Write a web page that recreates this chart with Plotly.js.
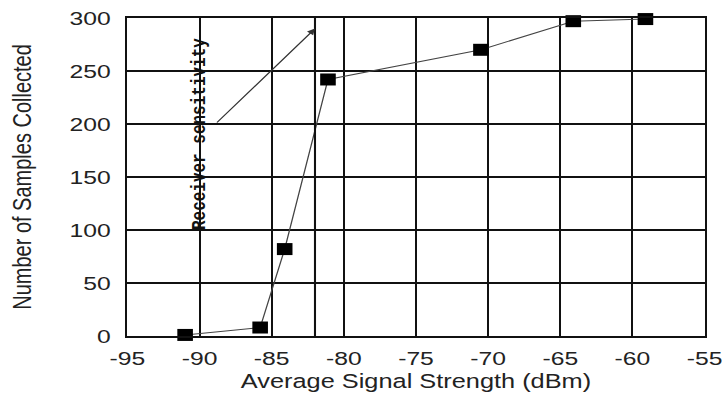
<!DOCTYPE html>
<html>
<head>
<meta charset="utf-8">
<script src="https://cdn.plot.ly/plotly-3.0.1.min.js"></script>
<style>
  html, body { margin: 0; padding: 0; background: #fff; overflow: hidden; }
  /* the reference picture is stretched horizontally by about 1.3x */
  #chart { width: 557px; height: 396px; transform: scaleX(1.3); transform-origin: 0 0; }
</style>
</head>
<body>
<div id="chart"></div>
<script>
// Data
const signalStrength = [-91, -85.8, -84.1, -81.1, -70.5, -64.1, -59.1];
const samplesCollected = [1, 8, 82, 242, 270, 297, 299];

const xTickVals = [-95, -90, -85, -80, -75, -70, -65, -60, -55];
const yTickVals = [0, 50, 100, 150, 200, 250, 300];

const receiverSensitivity = -82;
const annotationLabel = "Receiver sensitivity";
const labelPos = [-90, 190];
const arrowTail = [-88.9, 200];
const arrowHead = [-82, 290];

const txtColor = "#222";
const gridColor = "#111";

const trace = {
  x: signalStrength,
  y: samplesCollected,
  type: "scatter",
  mode: "lines+markers",
  line: { color: "#444", width: 1 },
  marker: { symbol: "square", size: 12, color: "#000" },
  showlegend: false,
  cliponaxis: false
};

const layout = {
  width: 557,
  height: 396,
  margin: { l: 98, r: 15, t: 18, b: 60 },
  paper_bgcolor: "#fff",
  plot_bgcolor: "#fff",
  font: { family: "Liberation Sans, Arial, sans-serif", size: 19, color: txtColor },
  xaxis: {
    range: [-95, -55],
    tickvals: xTickVals,
    ticktext: xTickVals.map(String),
    showgrid: true,
    gridcolor: gridColor,
    gridwidth: 1.6,
    zeroline: false,
    showline: true,
    linecolor: gridColor,
    linewidth: 1.6,
    mirror: true,
    ticks: "",
    ticklabelstandoff: 5,
    tickfont: { size: 19 },
    title: { text: "Average Signal Strength (dBm)", font: { size: 19.5 }, standoff: 6 }
  },
  yaxis: {
    range: [0, 300],
    tickvals: yTickVals,
    ticktext: yTickVals.map(String),
    showgrid: true,
    gridcolor: gridColor,
    gridwidth: 2,
    zeroline: false,
    showline: true,
    linecolor: gridColor,
    linewidth: 2,
    mirror: true,
    ticks: "",
    ticklabelstandoff: 7,
    tickfont: { size: 19 },
    title: { text: "Number of Samples Collected", font: { size: 20 }, standoff: 24 }
  },
  shapes: [
    {
      type: "line", xref: "x", yref: "paper",
      x0: receiverSensitivity, x1: receiverSensitivity, y0: 0, y1: 1,
      line: { color: gridColor, width: 1.6 }
    }
  ],
  annotations: [
    {
      x: labelPos[0], y: labelPos[1], xref: "x", yref: "y",
      text: annotationLabel, showarrow: false, textangle: -90,
      font: { family: "Liberation Mono, Courier New, monospace", size: 16, color: "#111", weight: "bold" },
      xanchor: "center", yanchor: "middle"
    },
    {
      x: arrowHead[0], y: arrowHead[1], xref: "x", yref: "y",
      ax: arrowTail[0], ay: arrowTail[1], axref: "x", ayref: "y",
      text: "", showarrow: true, arrowhead: 2, arrowsize: 1.1,
      arrowwidth: 1.1, arrowcolor: "#333", standoff: 0, startstandoff: 0
    }
  ]
};

Plotly.newPlot("chart", [trace], layout, { staticPlot: true, displayModeBar: false });
</script>
</body>
</html>
